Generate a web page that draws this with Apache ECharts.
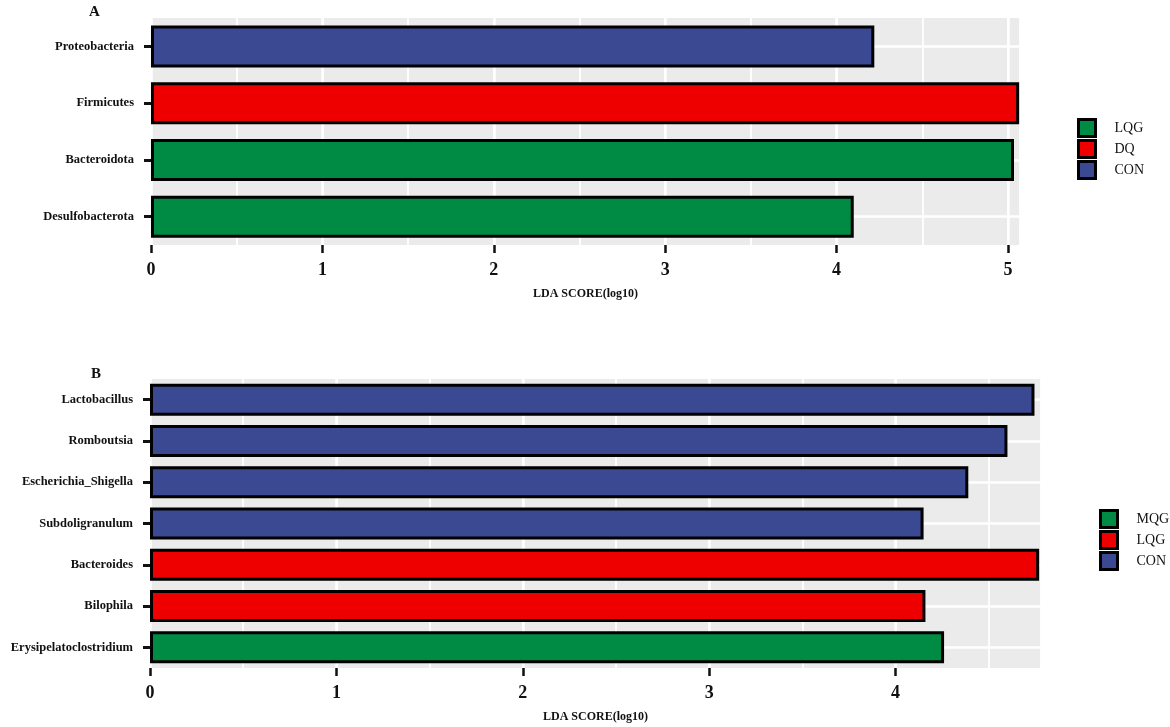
<!DOCTYPE html>
<html>
<head>
<meta charset="utf-8">
<script src="https://cdn.jsdelivr.net/npm/echarts@6/dist/echarts.min.js"></script>
<style>html,body{margin:0;padding:0;background:#fff}#c{width:1170px;height:727px}</style>
</head>
<body>
<div id="c"></div>
<script>
// ---- Panel A data ----
const catsA = ['Proteobacteria', 'Firmicutes', 'Bacteroidota', 'Desulfobacterota'];
const valsA = [4.22, 5.065, 5.035, 4.10];
const grpA = ['CON', 'DQ', 'LQG', 'LQG'];
const legendA = ['LQG', 'DQ', 'CON'];
const ticksA = [0, 1, 2, 3, 4, 5];
const maxA = 5.07;

// ---- Panel B data ----
const catsB = ['Lactobacillus', 'Romboutsia', 'Escherichia_Shigella', 'Subdoligranulum', 'Bacteroides', 'Bilophila', 'Erysipelatoclostridium'];
const valsB = [4.745, 4.60, 4.39, 4.15, 4.77, 4.16, 4.26];
const grpB = ['CON', 'CON', 'CON', 'CON', 'LQG', 'LQG', 'MQG'];
const legendB = ['MQG', 'LQG', 'CON'];
const ticksB = [0, 1, 2, 3, 4];
const maxB = 4.78;

const groupColors = ['#008B45', '#EE0000', '#3B4992'];
const FONT = 'Liberation Serif';

function barSeries(cats, vals, grps, groups, xIdx, yIdx, barW) {
  const out = groups.map((g, gi) => ({
    name: g,
    type: 'bar',
    xAxisIndex: xIdx,
    yAxisIndex: yIdx,
    barWidth: barW,
    barGap: '-100%',
    z: 3,
    itemStyle: { color: groupColors[gi], borderColor: '#000', borderWidth: 3 },
    data: vals.map((v, i) => grps[i] === g ? v : '-')
  }));
  out.push({
    type: 'line',
    xAxisIndex: xIdx,
    yAxisIndex: yIdx,
    data: [],
    z: 1,
    silent: true,
    markLine: {
      z: 1,
      silent: true,
      animation: false,
      symbol: ['none', 'none'],
      label: { show: false },
      lineStyle: { color: '#fff', width: 2.5, type: 'solid' },
      data: cats.map((c, i) => ({ yAxis: i }))
    }
  });
  return out;
}

function xAxes(gridIndex, max, ticks) {
  return [
    {
      type: 'value', gridIndex, position: 'bottom', min: 0, max, interval: 1,
      axisLine: { show: false },
      axisTick: { show: true, length: 8, customValues: ticks, lineStyle: { color: '#111', width: 2.5 } },
      axisLabel: { customValues: ticks, margin: 16, color: '#111', fontFamily: FONT, fontWeight: 'bold', fontSize: 18 },
      splitLine: { show: true, lineStyle: { color: '#fff', width: 2.5 } },
      name: 'LDA SCORE(log10)', nameLocation: 'middle', nameGap: 43,
      nameTextStyle: { color: '#111', fontFamily: FONT, fontWeight: 'bold', fontSize: 12 }
    },
    {
      type: 'value', gridIndex, position: 'bottom', min: 0, max, interval: 0.5,
      axisLine: { show: false }, axisTick: { show: false }, axisLabel: { show: false },
      splitLine: { show: true, lineStyle: { color: '#fff', width: 1.8 } }
    }
  ];
}

function yAxis(gridIndex, cats) {
  return {
    type: 'category', gridIndex, data: cats, inverse: true,
    axisLine: { show: false },
    axisTick: { show: true, alignWithLabel: true, length: 7, lineStyle: { color: '#111', width: 3 } },
    axisLabel: { margin: 17, color: '#111', fontFamily: FONT, fontWeight: 'bold', fontSize: 12.5 },
    splitLine: { show: false }
  };
}

function legend(names, left, top) {
  return {
    data: names.map((n, i) => ({ name: n, icon: 'rect', itemStyle: { color: groupColors[i], borderColor: '#000', borderWidth: 3 } })),
    orient: 'vertical', left, top, padding: 0,
    itemWidth: 17, itemHeight: 17, itemGap: 1,
    textStyle: { color: '#111', fontFamily: FONT, fontSize: 14, padding: [0, 0, 0, 14] },
    selectedMode: false
  };
}

const chart = echarts.init(document.getElementById('c'), null, { renderer: 'canvas' });
chart.setOption({
  backgroundColor: '#fff',
  animation: false,
  textStyle: { fontFamily: FONT },
  title: [
    { text: 'A', left: 84, top: 0, textStyle: { fontFamily: FONT, fontWeight: 'bold', fontSize: 15, color: '#111' } },
    { text: 'B', left: 86, top: 362, textStyle: { fontFamily: FONT, fontWeight: 'bold', fontSize: 15, color: '#111' } }
  ],
  grid: [
    { left: 151, right: 150, top: 18, height: 227, show: true, backgroundColor: '#EBEBEB', borderWidth: 0 },
    { left: 150, right: 129, top: 379, height: 289, show: true, backgroundColor: '#EBEBEB', borderWidth: 0 }
  ],
  legend: [legend(legendA, 1077, 118), legend(legendB, 1099, 509)],
  xAxis: [...xAxes(0, maxA, ticksA), ...xAxes(1, maxB, ticksB)],
  yAxis: [yAxis(0, catsA), yAxis(1, catsB)],
  series: [
    ...barSeries(catsA, valsA, grpA, legendA, 0, 0, 42),
    ...barSeries(catsB, valsB, grpB, legendB, 2, 1, 32)
  ]
});
</script>
</body>
</html>
